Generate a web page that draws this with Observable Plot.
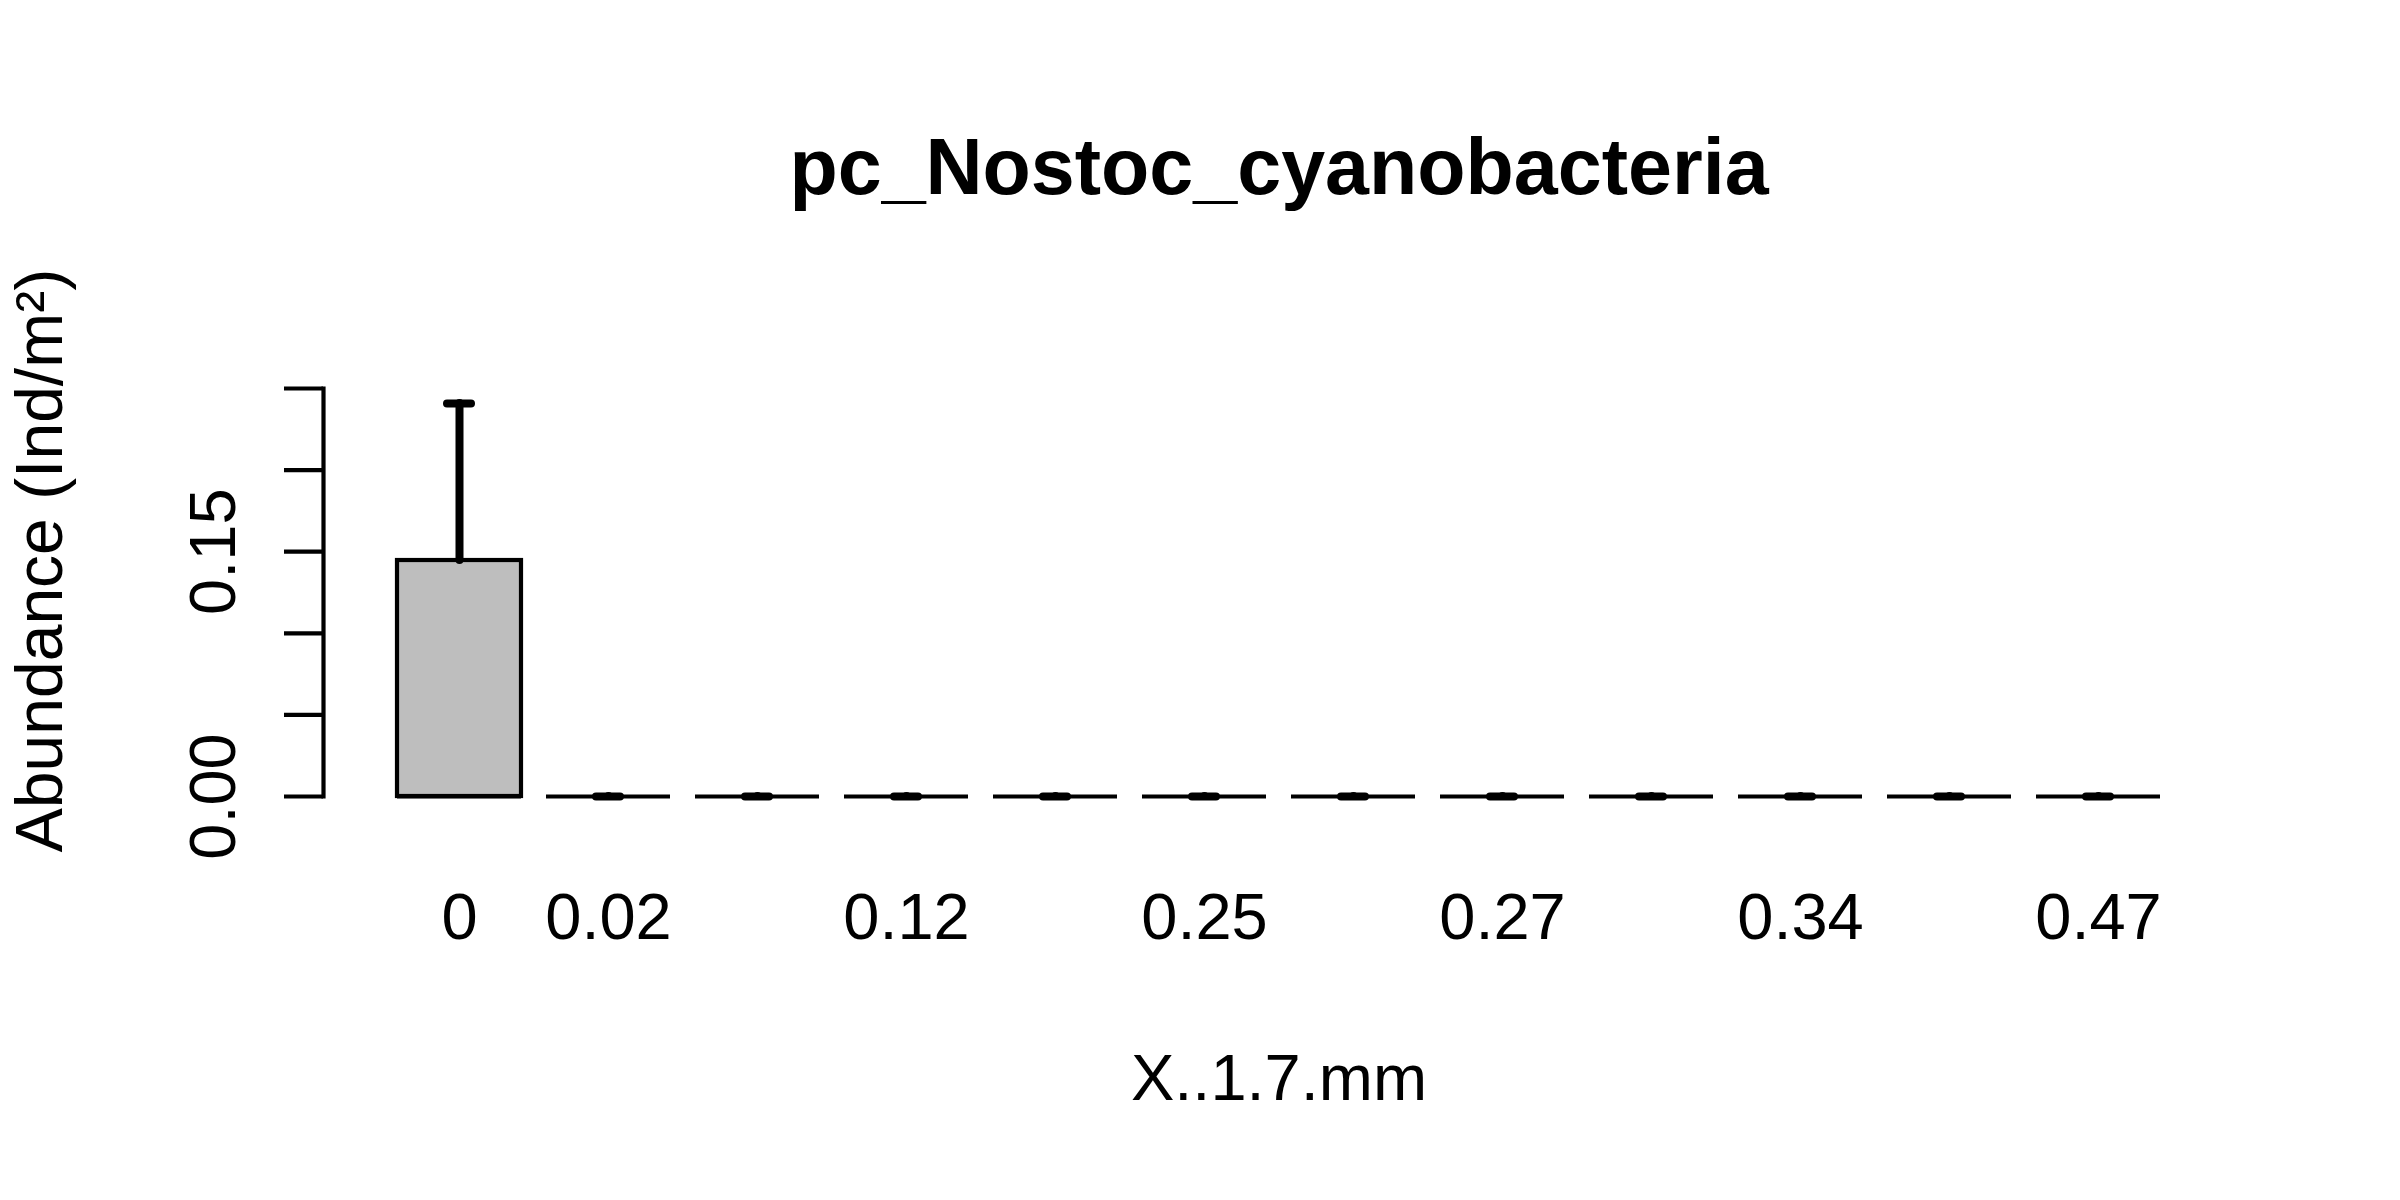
<!DOCTYPE html>
<html>
<head>
<meta charset="utf-8">
<script src="https://cdn.jsdelivr.net/npm/d3@7"></script>
<script src="https://cdn.jsdelivr.net/npm/@observablehq/plot@0.6"></script>
<style>
  html, body { margin: 0; padding: 0; background: #fff; }
  #chart svg { display: block; }
</style>
</head>
<body>
<div id="chart"></div>
<script>
// ---- data ----
const categories = ["0", "0.02", "0.05", "0.12", "0.2", "0.25", "0.26", "0.27", "0.3", "0.34", "0.4", "0.47"];
const means      = [0.1446, 0, 0, 0, 0, 0, 0, 0, 0, 0, 0, 0];
const errors     = [0.0962, 0, 0, 0, 0, 0, 0, 0, 0, 0, 0, 0];
// R drops overlapping axis labels: these are the ones it shows
const labelShown = [true, true, false, true, false, true, false, true, false, true, false, true];
const yTicks      = [0, 0.05, 0.10, 0.15, 0.20, 0.25];
const yTickLabels = ["0.00", "", "", "0.15", "", ""];
const titleText = "pc_Nostoc_cyanobacteria";
const xTitle = "X..1.7.mm";
const yTitle = "Abundance (Ind/m²)";

const rows = categories.map((c, i) => ({cat: c, mean: means[i], top: means[i] + errors[i], shown: labelShown[i]}));
const yTickRows = yTicks.map((v, i) => ({v, label: yTickLabels[i]})).filter(d => d.label !== "");

const font = "'Liberation Sans', Arial, Helvetica, sans-serif";
const lw = 4.2;

const chart = Plot.plot({
  width: 2400,
  height: 1200,
  marginLeft: 323,
  marginRight: 166,
  marginTop: 388,
  marginBottom: 404,
  style: {fontFamily: font, background: "#fff", color: "#000", overflow: "visible"},
  x: {type: "band", domain: categories, paddingInner: 0.2 / 1.2, paddingOuter: 0.473, axis: null},
  y: {domain: [0, 0.25], axis: null},
  marks: [
    Plot.barY(rows, {x: "cat", y: "mean", fill: "#BEBEBE", stroke: "#000", strokeWidth: lw}),
    Plot.tickY(rows, {x: "cat", y: () => 0, stroke: "#000", strokeWidth: lw}),
    Plot.ruleX(rows, {x: "cat", y1: "mean", y2: "top", stroke: "#000", strokeWidth: 8, strokeLinecap: "round"}),
    Plot.tickY(rows, {x: "cat", y: "top", stroke: "#000", strokeWidth: 8, strokeLinecap: "round", insetLeft: 50, insetRight: 50}),
    Plot.axisY({ticks: yTicks, tickSize: 39, stroke: "#000", strokeWidth: lw, tickFormat: () => "", label: null}),
    Plot.frame({anchor: "left", stroke: "#000", strokeWidth: lw}),
    Plot.text(yTickRows, {y: "v", text: "label", frameAnchor: "left", dx: -89, rotate: -90, lineAnchor: "bottom", textAnchor: "middle", fontSize: 65, fill: "#000"}),
    Plot.text(rows.filter(d => d.shown), {x: "cat", text: "cat", frameAnchor: "bottom", dy: 142, lineAnchor: "bottom", fontSize: 65, fill: "#000"}),
    Plot.text([xTitle], {text: d => d, frameAnchor: "bottom", dy: 303, lineAnchor: "bottom", fontSize: 65, fill: "#000"}),
    Plot.text([titleText], {text: d => d, frameAnchor: "top", dy: -195, lineAnchor: "bottom", fontSize: 79, fontWeight: "bold", fill: "#000"}),
    Plot.text([yTitle], {text: d => d, frameAnchor: "left", dx: -262, dy: -32, rotate: -90, lineAnchor: "bottom", textAnchor: "middle", fontSize: 66, fill: "#000"})
  ]
});
document.getElementById("chart").appendChild(chart);
</script>
</body>
</html>
